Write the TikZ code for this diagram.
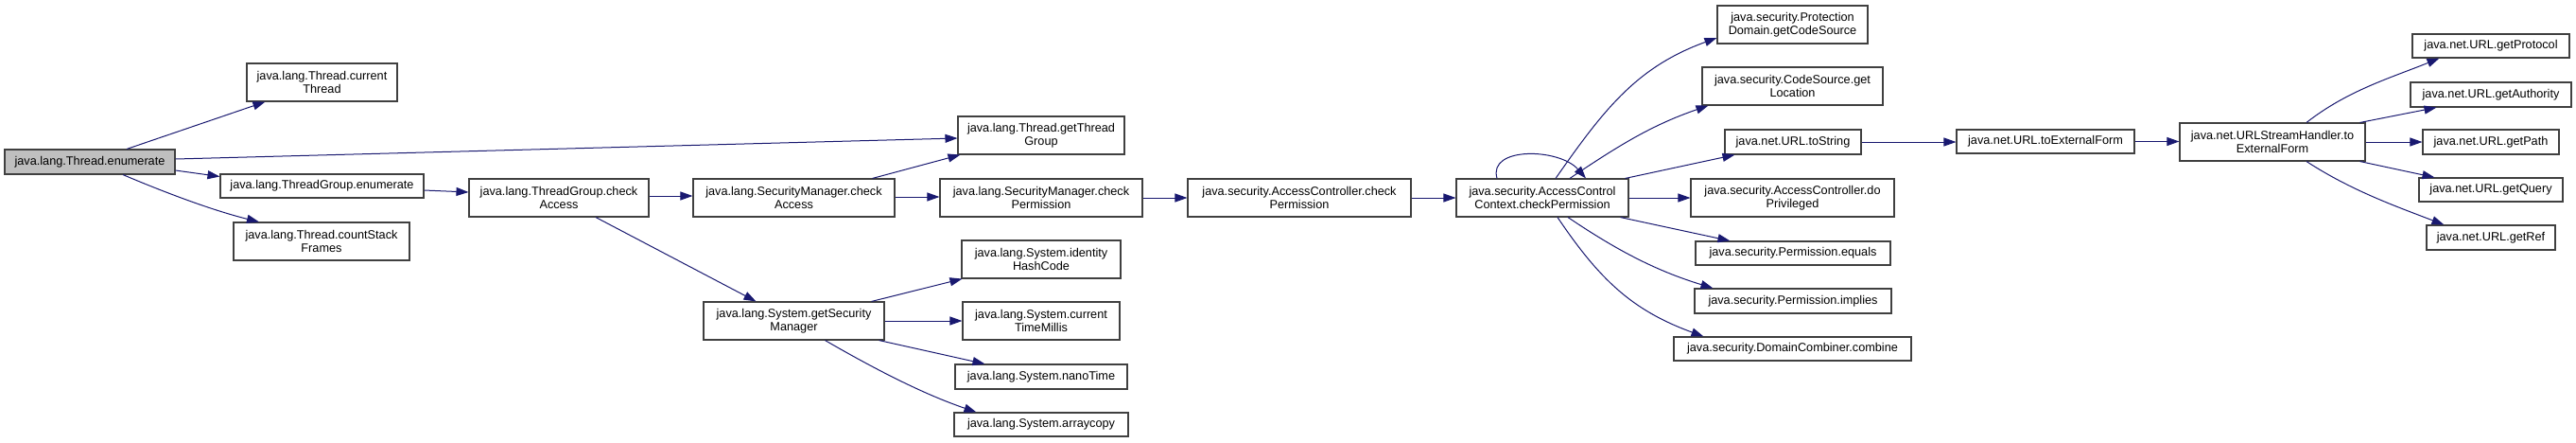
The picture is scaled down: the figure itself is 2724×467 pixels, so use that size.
\documentclass[tikz,border=0pt]{standalone}
\usepackage{fontspec}
\setmainfont{Liberation Sans}
\usetikzlibrary{arrows.meta}
\definecolor{edgecol}{HTML}{191970}
\definecolor{boxline}{HTML}{404040}
\definecolor{startfill}{HTML}{BFBFBF}
\begin{document}
\begin{tikzpicture}[x=1pt,y=-1pt,
  fn/.style={draw=boxline, line width=1.1pt, fill=white, inner sep=0pt, align=center,
             font=\fontsize{12.7}{14.3}\selectfont},
  call/.style={draw=edgecol, line width=1pt, -{Triangle[length=13pt,width=9pt]}}]
\useasboundingbox (0,0) rectangle (2724,467);
% nodes
\node[fn, fill=startfill, minimum width=180pt, minimum height=26pt] (enum) at (95,171) {java.lang.Thread.enumerate};
\node[fn, minimum width=159pt, minimum height=40pt] (ct) at (340.5,87) {java.lang.Thread.current\\Thread};
\node[fn, minimum width=215pt, minimum height=25pt] (tge) at (340.5,196.5) {java.lang.ThreadGroup.enumerate};
\node[fn, minimum width=186pt, minimum height=40pt] (csf) at (340,255) {java.lang.Thread.countStack\\Frames};
\node[fn, minimum width=176pt, minimum height=40pt] (gtg) at (1101,143) {java.lang.Thread.getThread\\Group};
\node[fn, minimum width=190pt, minimum height=40pt] (tgca) at (591,209) {java.lang.ThreadGroup.check\\Access};
\node[fn, minimum width=213pt, minimum height=40pt] (smca) at (839.5,209) {java.lang.SecurityManager.check\\Access};
\node[fn, minimum width=214pt, minimum height=40pt] (smcp) at (1101,209) {java.lang.SecurityManager.check\\Permission};
\node[fn, minimum width=236pt, minimum height=40pt] (accp) at (1374,209) {java.security.AccessController.check\\Permission};
\node[fn, minimum width=191pt, minimum height=40pt] (gsm) at (839.5,339) {java.lang.System.getSecurity\\Manager};
\node[fn, minimum width=168pt, minimum height=40pt] (ihc) at (1101,274) {java.lang.System.identity\\HashCode};
\node[fn, minimum width=166pt, minimum height=40pt] (ctm) at (1101,339) {java.lang.System.current\\TimeMillis};
\node[fn, minimum width=182pt, minimum height=26pt] (nano) at (1101,398) {java.lang.System.nanoTime};
\node[fn, minimum width=184pt, minimum height=25pt] (arr) at (1101,448.5) {java.lang.System.arraycopy};
\node[fn, minimum width=182pt, minimum height=40pt] (acc) at (1631,209) {java.security.AccessControl\\Context.checkPermission};
\node[fn, minimum width=159pt, minimum height=40pt] (pd) at (1895.5,26) {java.security.Protection\\Domain.getCodeSource};
\node[fn, minimum width=191pt, minimum height=40pt] (cs) at (1895.5,91) {java.security.CodeSource.get\\Location};
\node[fn, minimum width=144pt, minimum height=26pt] (uts) at (1896,150) {java.net.URL.toString};
\node[fn, minimum width=215pt, minimum height=40pt] (dp) at (1895.5,209) {java.security.AccessController.do\\Privileged};
\node[fn, minimum width=206pt, minimum height=25pt] (peq) at (1896,267.5) {java.security.Permission.equals};
\node[fn, minimum width=208pt, minimum height=26pt] (pim) at (1896,318) {java.security.Permission.implies};
\node[fn, minimum width=251pt, minimum height=25pt] (dc) at (1895.5,368.5) {java.security.DomainCombiner.combine};
\node[fn, minimum width=188pt, minimum height=25pt] (tef) at (2163,149.5) {java.net.URL.toExternalForm};
\node[fn, minimum width=196pt, minimum height=40pt] (ush) at (2403,150) {java.net.URLStreamHandler.to\\ExternalForm};
\node[fn, minimum width=166pt, minimum height=25pt] (gp) at (2634,48.5) {java.net.URL.getProtocol};
\node[fn, minimum width=170pt, minimum height=26pt] (ga) at (2634,100) {java.net.URL.getAuthority};
\node[fn, minimum width=144pt, minimum height=26pt] (gpa) at (2634,150) {java.net.URL.getPath};
\node[fn, minimum width=152pt, minimum height=25pt] (gq) at (2634,200.5) {java.net.URL.getQuery};
\node[fn, minimum width=136pt, minimum height=26pt] (gr) at (2634,251) {java.net.URL.getRef};
% edges
\draw[call] ([xshift=39pt]enum.north) -- ([xshift=20pt]ct.south west);
\draw[call] ([yshift=3pt]enum.east) -- ([yshift=-3pt]gtg.west);
\draw[call] ([yshift=-9pt]enum.east) -- ([yshift=10pt]tge.west);
\draw[call] ([xshift=35pt]enum.south) .. controls ([xshift=81pt,yshift=-19.5pt]enum.south) and ([xshift=-114.5pt,yshift=12pt]csf.north) .. ([xshift=-66pt]csf.north);
\draw[call] ([yshift=-4.5pt]tge.east) -- ([yshift=6pt]tgca.west);
\draw[call] ([yshift=2pt]tgca.east) -- ([yshift=2pt]smca.west);
\draw[call] ([xshift=39pt]tgca.south) -- ([xshift=-40pt]gsm.north);
\draw[call] ([xshift=83pt]smca.north) -- ([xshift=3pt]gtg.south west);
\draw[call] ([yshift=1pt]smca.east) -- ([yshift=1pt]smcp.west);
\draw[call] (smcp) -- (accp);
\draw[call] (accp) -- (acc);
\draw[call] ([xshift=-14pt]gsm.north east) -- ([xshift=1pt]ihc.south west);
\draw[call] (gsm) -- (ctm);
\draw[call] ([xshift=-6pt]gsm.south east) -- ([xshift=32pt]nano.north west);
\draw[call] ([xshift=33pt]gsm.south) .. controls ([xshift=85pt,yshift=-30pt]gsm.south) and ([xshift=-33pt,yshift=19.5pt]arr.north west) .. ([xshift=24pt]arr.north west);
% AccessControlContext
\draw[call] ([xshift=-48pt]acc.north) .. controls ([xshift=-58pt,yshift=34pt]acc.north) and ([xshift=18pt,yshift=32pt]acc.north) .. ([xshift=46pt]acc.north);
\draw[call] ([xshift=14pt]acc.north) .. controls ([xshift=65.6pt,yshift=73.7pt]acc.north) and ([xshift=-84.6pt,yshift=-44.8pt]pd.west) .. ([yshift=-14pt]pd.west);
\draw[call] ([xshift=29pt]acc.north) .. controls ([xshift=81pt,yshift=35pt]acc.north) and ([xshift=-52.6pt,yshift=-20.5pt]cs.south west) .. ([xshift=7pt]cs.south west);
\draw[call] ([xshift=-4pt]acc.north east) -- ([xshift=11pt]uts.south west);
\draw[call] (acc) -- (dp);
\draw[call] ([xshift=-9pt]acc.south east) -- ([xshift=37pt]peq.north west);
\draw[call] ([xshift=27pt]acc.south) .. controls ([xshift=79.2pt,yshift=-35.2pt]acc.south) and ([xshift=-40.2pt,yshift=18.4pt]pim.north west) .. ([xshift=20pt]pim.north west);
\draw[call] ([xshift=16pt]acc.south) .. controls ([xshift=60.7pt,yshift=-66.3pt]acc.south) and ([xshift=-43.2pt,yshift=27.4pt]dc.north west) .. ([xshift=32pt]dc.north west);
% URL
\draw[call] (uts) -- (uts -| tef.west);
\draw[call] (tef) -- (tef -| ush.west);
\draw[call] ([xshift=36pt]ush.north) .. controls ([xshift=79.3pt,yshift=33.9pt]ush.north) and ([xshift=-22pt,yshift=-20.6pt]gp.south west) .. ([xshift=29pt]gp.south west);
\draw[call] ([xshift=-6pt]ush.north east) -- ([xshift=28pt]ga.south west);
\draw[call] (ush) -- (gpa);
\draw[call] ([xshift=-6pt]ush.south east) -- ([xshift=17pt]gq.north west);
\draw[call] ([xshift=36pt]ush.south) .. controls ([xshift=83pt,yshift=-30.5pt]ush.south) and ([xshift=-33.3pt,yshift=20pt]gr.north west) .. ([xshift=19pt]gr.north west);
\end{tikzpicture}
\end{document}
